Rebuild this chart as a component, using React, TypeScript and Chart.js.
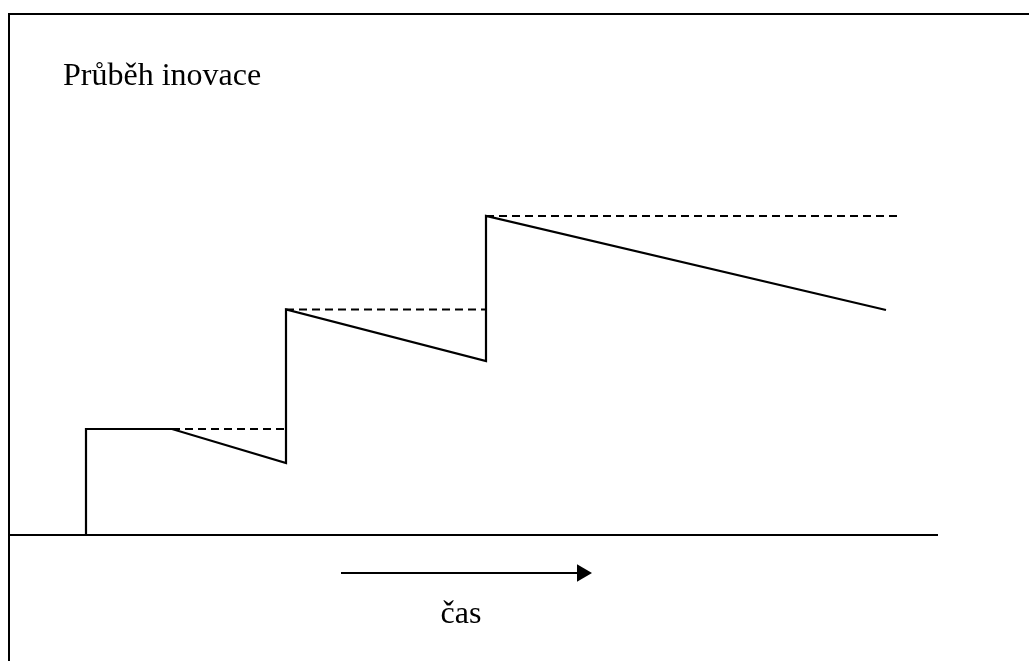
import React, { useEffect, useRef } from "react";
import { Chart, registerables } from "chart.js";

Chart.register(...registerables);

// Innovation course (time units, level units)
const mainTime = [0, 0, 0.86, 2, 2, 4, 4, 8];
const mainLevel = [0, 1.06, 1.06, 0.72, 2.255, 1.74, 3.19, 2.25];

// Dashed reference levels (each pair = one dashed segment)
const dashTime = [
  [0.86, 2],
  [2, 4],
  [4, 8.13],
];
const dashLevel = [1.06, 2.255, 3.19];

// Baseline (time axis)
const baseTime = [-0.78, 8.52];
const baseLevel = [0, 0];

// Time arrow
const arrowTime = [2.55, 4.96];
const arrowLevel = [-0.38, -0.38];

const titleText = "Průběh inovace";
const axisText = "čas";

const toPts = (xs: number[], ys: number[]) => xs.map((x, i) => ({ x, y: ys[i] }));

export default function App() {
  const ref = useRef<HTMLCanvasElement | null>(null);

  useEffect(() => {
    if (!ref.current) return;

    const decor = {
      id: "decor",
      afterDraw(chart: any) {
        const ctx = chart.ctx;
        ctx.save();
        // frame
        ctx.strokeStyle = "#000";
        ctx.lineWidth = 2;
        ctx.beginPath();
        ctx.moveTo(9, 661);
        ctx.lineTo(9, 14);
        ctx.lineTo(1029, 14);
        ctx.stroke();
        // texts
        ctx.fillStyle = "#000";
        ctx.font = '32px "Liberation Serif"';
        ctx.textBaseline = "alphabetic";
        ctx.textAlign = "left";
        ctx.fillText(titleText, 63, 85);
        ctx.textAlign = "center";
        ctx.fillText(axisText, 461, 623);
        ctx.restore();
      },
    };

    const datasets: any[] = [];
    datasets.push({
      data: toPts(mainTime, mainLevel),
      showLine: true,
      borderColor: "#000",
      borderWidth: 2.2,
      pointRadius: 0,
      borderJoinStyle: "miter",
      tension: 0,
    });
    dashTime.forEach((t, i) => {
      datasets.push({
        data: toPts(t, [dashLevel[i], dashLevel[i]]),
        showLine: true,
        borderColor: "#000",
        borderWidth: 1.8,
        borderDash: [8, 5],
        pointRadius: 0,
      });
    });
    datasets.push({
      data: toPts(baseTime, baseLevel),
      showLine: true,
      borderColor: "#000",
      borderWidth: 2.2,
      pointRadius: 0,
    });
    datasets.push({
      data: toPts(arrowTime, arrowLevel),
      showLine: true,
      borderColor: "#000",
      borderWidth: 2.2,
      pointRadius: [0, 10],
      pointStyle: "triangle",
      rotation: 90,
      pointBackgroundColor: "#000",
      pointBorderColor: "#000",
      pointBorderWidth: 0,
    });

    const chart = new Chart(ref.current, {
      type: "scatter",
      data: { datasets },
      options: {
        animation: false,
        responsive: false,
        devicePixelRatio: 1,
        layout: { padding: 0, autoPadding: false },
        events: [],
        plugins: {
          legend: { display: false },
          tooltip: { enabled: false },
          title: { display: false },
        },
        scales: {
          x: { type: "linear", display: false, min: -0.86, max: 9.43 },
          y: { type: "linear", display: false, min: -1.26, max: 5.35 },
        },
      },
      plugins: [decor],
    });
    return () => chart.destroy();
  }, []);

  return (
    <div style={{ position: "absolute", left: 0, top: 0, width: 1029, height: 661, background: "#fff" }}>
      <canvas ref={ref} width={1029} height={661} />
    </div>
  );
}
